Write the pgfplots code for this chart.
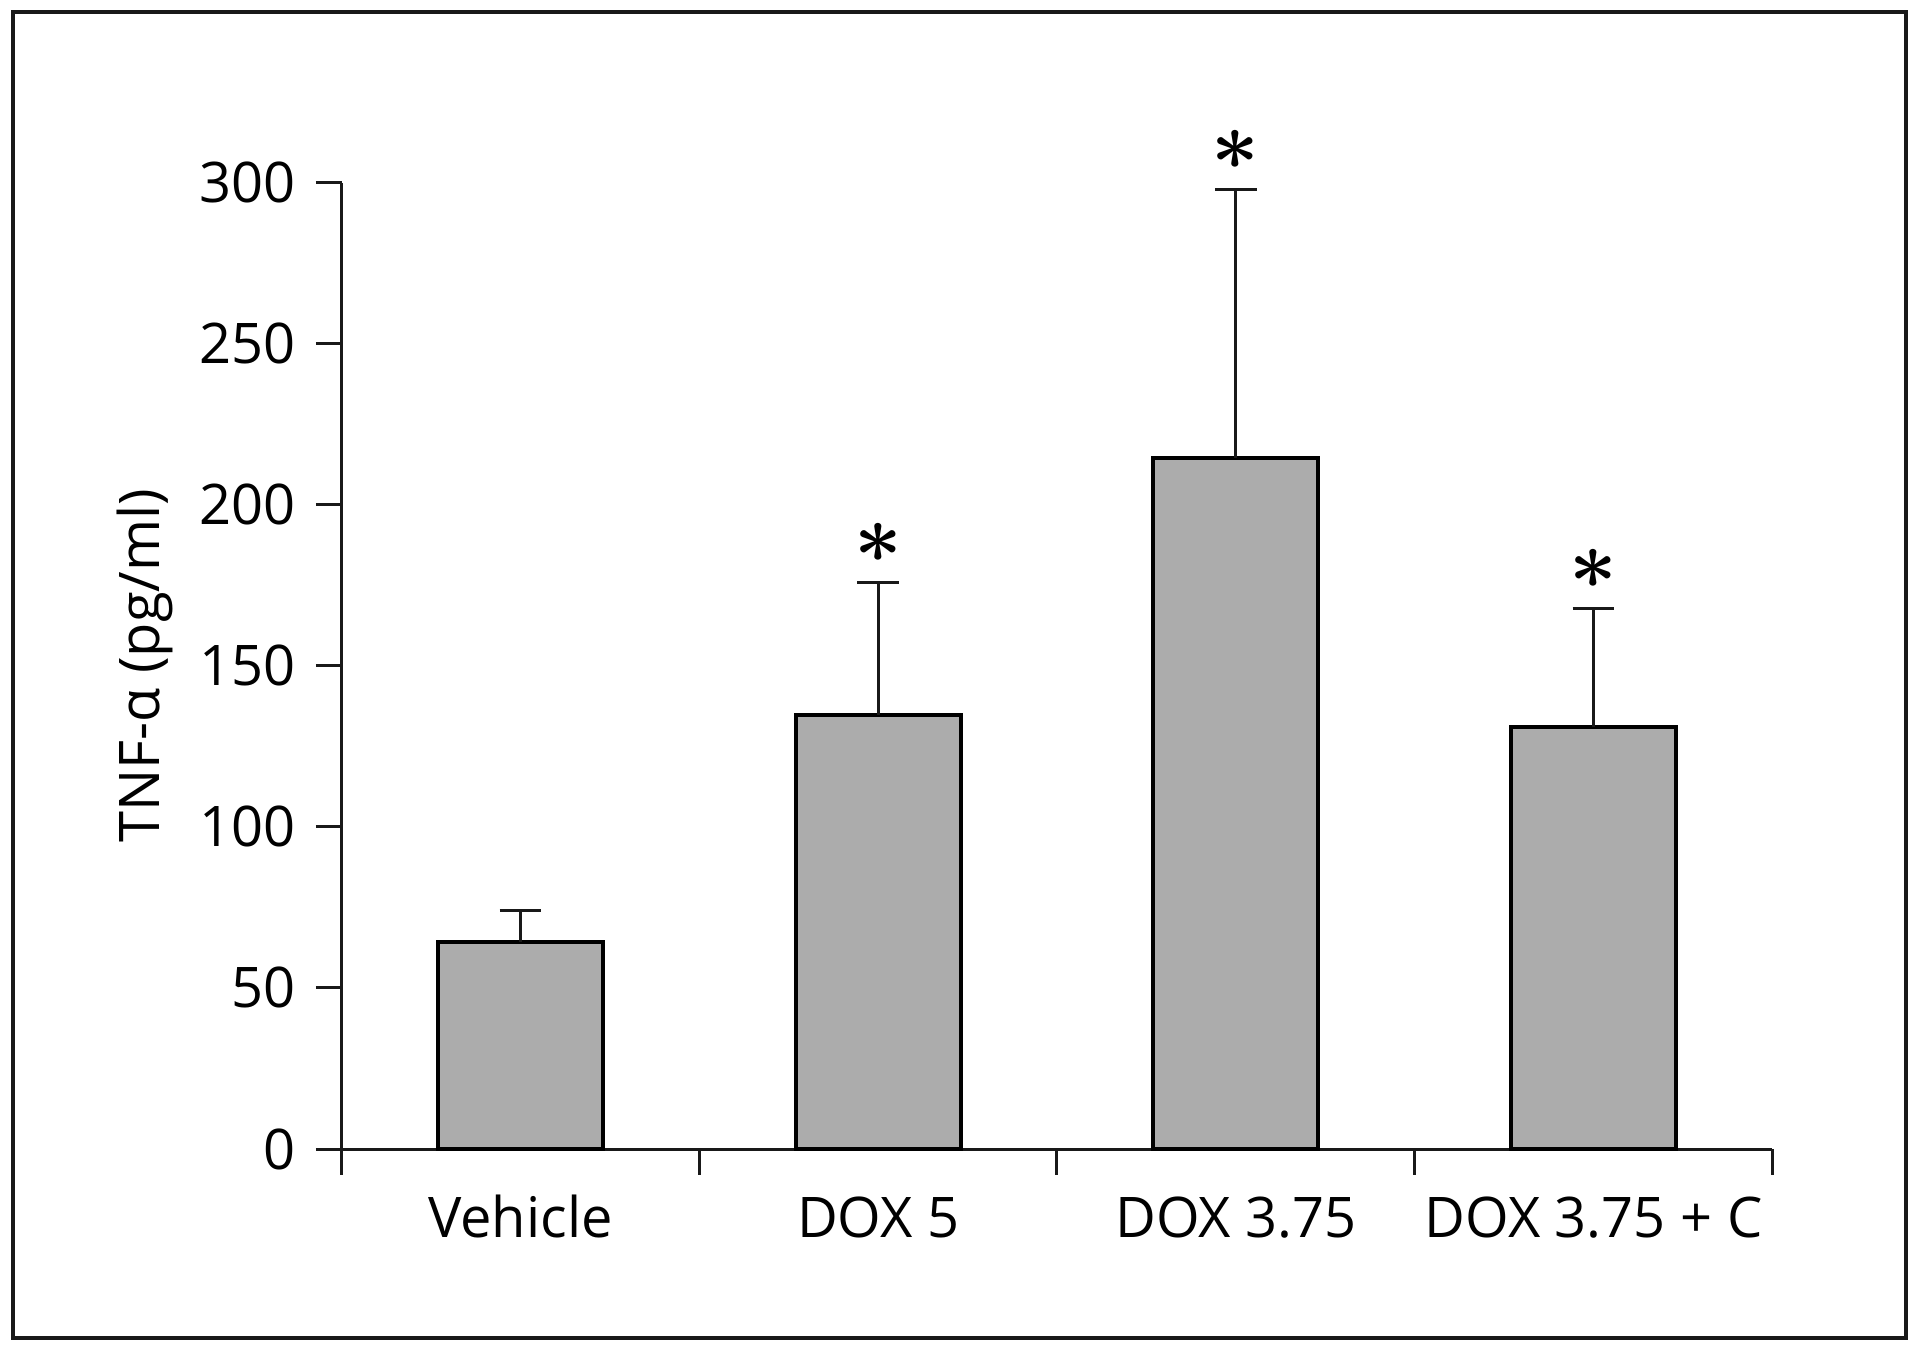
\documentclass[border=0pt]{standalone}
\usepackage{fontspec}
\setmainfont{Open Sans}
\usepackage{pgfplots}
\pgfplotsset{compat=1.18}
\definecolor{barfill}{RGB}{172,172,172}
\newcommand{\sig}{\ensuremath{\ast}}
\begin{document}
\begin{tikzpicture}
\path[use as bounding box] (-85.4pt,-51pt) rectangle (394.6pt,287.25pt);
\draw[line width=1pt, black!90] (-82.15pt,-47.25pt) rectangle (391.1pt,284.2pt);
\begin{axis}[
  at={(0,0)}, anchor=south west,
  scale only axis, width=357.7pt, height=241.6pt,
  xmin=-0.5, xmax=3.5, ymin=0, ymax=300,
  axis lines=left, axis line style={-, line width=0.75pt, black!90},
  clip=false,
  ytick={0,50,...,300},
  xtick={-0.5,0.5,1.5,2.5,3.5},
  x tick label as interval,
  xticklabels={Vehicle, DOX 5, DOX 3.75, DOX 3.75 + C},
  tick align=outside, major tick length=6.4pt,
  tick style={line width=0.75pt, black!90},
  /pgf/number format/assume math mode=true,
  every tick label/.append style={font=\fontsize{14}{17}\selectfont, text=black},
  yticklabel style={anchor=east, inner sep=0pt, xshift=-4.8pt},
  xticklabel style={anchor=base, yshift=-15.6pt},
  every axis y label/.style={at={(axis description cs:0,0.5)}, xshift=-45.4pt, rotate=90, anchor=base, font=\fontsize{14}{17}\selectfont},
  ylabel={TNF-α (pg/ml)},
]
\addplot[ybar, bar width=41.2pt, fill=barfill, draw=black, line width=1pt,
  error bars/.cd, y dir=plus, y explicit,
  error bar style={line width=0.75pt, black!90},
  error mark options={rotate=90, mark size=5.2pt, line width=0.75pt, black!90}]
  table[x=x, y=y, y error=e] {
x y e
0 64.4 9.7
1 134.7 41.1
2 214.6 83.3
3 130.9 37.0
};
\addplot[draw=none, mark=none,
  nodes near coords={\sig},
  every node near coord/.append style={anchor=center, yshift=9.9pt, font=\fontsize{22.5}{22.5}\selectfont\boldmath, inner sep=0pt}]
  coordinates {(1,175.8) (2,297.9) (3,167.9)};
\end{axis}
\end{tikzpicture}
\end{document}
